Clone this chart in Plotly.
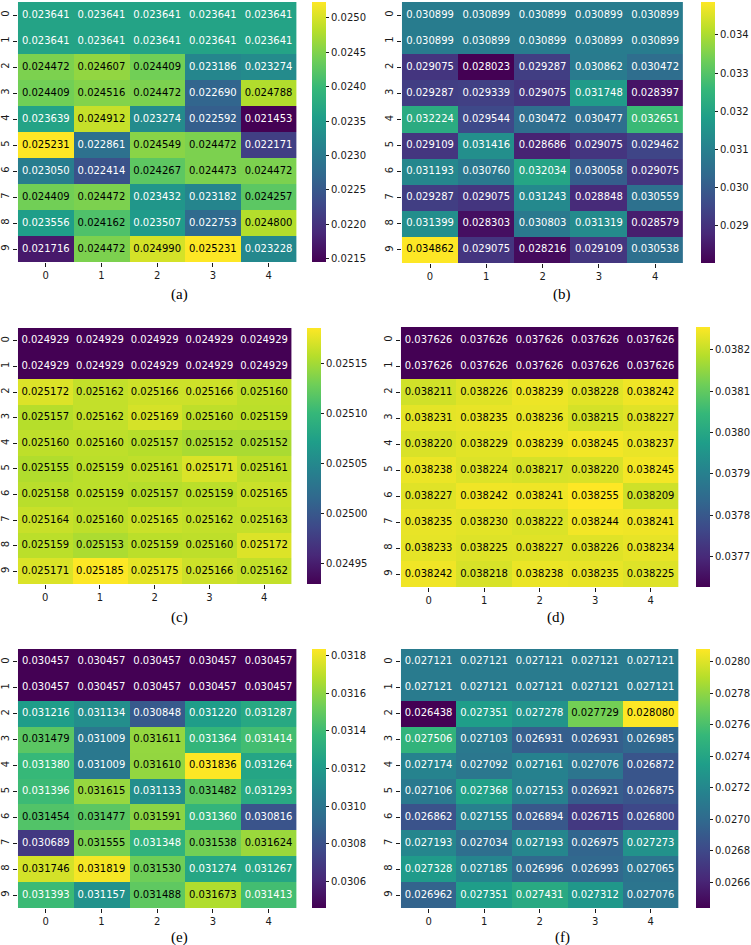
import plotly.graph_objects as go
from plotly.colors import sample_colorscale

W, H = 751, 945

rows = [0, 1, 2, 3, 4, 5, 6, 7, 8, 9]
cols = [0, 1, 2, 3, 4]

vals_a = [
    [0.023641, 0.023641, 0.023641, 0.023641, 0.023641],
    [0.023641, 0.023641, 0.023641, 0.023641, 0.023641],
    [0.024472, 0.024607, 0.024409, 0.023186, 0.023274],
    [0.024409, 0.024516, 0.024472, 0.022690, 0.024788],
    [0.023639, 0.024912, 0.023274, 0.022592, 0.021453],
    [0.025231, 0.022861, 0.024549, 0.024472, 0.022171],
    [0.023050, 0.022414, 0.024267, 0.024473, 0.024472],
    [0.024409, 0.024472, 0.023432, 0.023182, 0.024257],
    [0.023556, 0.024162, 0.023507, 0.022753, 0.024800],
    [0.021716, 0.024472, 0.024990, 0.025231, 0.023228],
]
vals_b = [
    [0.030899, 0.030899, 0.030899, 0.030899, 0.030899],
    [0.030899, 0.030899, 0.030899, 0.030899, 0.030899],
    [0.029075, 0.028023, 0.029287, 0.030862, 0.030472],
    [0.029287, 0.029339, 0.029075, 0.031748, 0.028397],
    [0.032224, 0.029544, 0.030472, 0.030477, 0.032651],
    [0.029109, 0.031416, 0.028686, 0.029075, 0.029462],
    [0.031193, 0.030760, 0.032034, 0.030058, 0.029075],
    [0.029287, 0.029075, 0.031243, 0.028848, 0.030559],
    [0.031399, 0.028303, 0.030803, 0.031319, 0.028579],
    [0.034862, 0.029075, 0.028216, 0.029109, 0.030538],
]
vals_c = [
    [0.024929, 0.024929, 0.024929, 0.024929, 0.024929],
    [0.024929, 0.024929, 0.024929, 0.024929, 0.024929],
    [0.025172, 0.025162, 0.025166, 0.025166, 0.025160],
    [0.025157, 0.025162, 0.025169, 0.025160, 0.025159],
    [0.025160, 0.025160, 0.025157, 0.025152, 0.025152],
    [0.025155, 0.025159, 0.025161, 0.025171, 0.025161],
    [0.025158, 0.025159, 0.025157, 0.025159, 0.025165],
    [0.025164, 0.025160, 0.025165, 0.025162, 0.025163],
    [0.025159, 0.025153, 0.025159, 0.025160, 0.025172],
    [0.025171, 0.025185, 0.025175, 0.025166, 0.025162],
]
vals_d = [
    [0.037626, 0.037626, 0.037626, 0.037626, 0.037626],
    [0.037626, 0.037626, 0.037626, 0.037626, 0.037626],
    [0.038211, 0.038226, 0.038239, 0.038228, 0.038242],
    [0.038231, 0.038235, 0.038236, 0.038215, 0.038227],
    [0.038220, 0.038229, 0.038239, 0.038245, 0.038237],
    [0.038238, 0.038224, 0.038217, 0.038220, 0.038245],
    [0.038227, 0.038242, 0.038241, 0.038255, 0.038209],
    [0.038235, 0.038230, 0.038222, 0.038244, 0.038241],
    [0.038233, 0.038225, 0.038227, 0.038226, 0.038234],
    [0.038242, 0.038218, 0.038238, 0.038235, 0.038225],
]
vals_e = [
    [0.030457, 0.030457, 0.030457, 0.030457, 0.030457],
    [0.030457, 0.030457, 0.030457, 0.030457, 0.030457],
    [0.031216, 0.031134, 0.030848, 0.031220, 0.031287],
    [0.031479, 0.031009, 0.031611, 0.031364, 0.031414],
    [0.031380, 0.031009, 0.031610, 0.031836, 0.031264],
    [0.031396, 0.031615, 0.031133, 0.031482, 0.031293],
    [0.031454, 0.031477, 0.031591, 0.031360, 0.030816],
    [0.030689, 0.031555, 0.031348, 0.031538, 0.031624],
    [0.031746, 0.031819, 0.031530, 0.031274, 0.031267],
    [0.031393, 0.031157, 0.031488, 0.031673, 0.031413],
]
vals_f = [
    [0.027121, 0.027121, 0.027121, 0.027121, 0.027121],
    [0.027121, 0.027121, 0.027121, 0.027121, 0.027121],
    [0.026438, 0.027351, 0.027278, 0.027729, 0.028080],
    [0.027506, 0.027103, 0.026931, 0.026931, 0.026985],
    [0.027174, 0.027092, 0.027161, 0.027076, 0.026872],
    [0.027106, 0.027368, 0.027153, 0.026921, 0.026875],
    [0.026862, 0.027155, 0.026894, 0.026715, 0.026800],
    [0.027193, 0.027034, 0.027193, 0.026975, 0.027273],
    [0.027328, 0.027185, 0.026996, 0.026993, 0.027065],
    [0.026962, 0.027351, 0.027431, 0.027312, 0.027076],
]

cb_ticks_a = [0.0215, 0.0220, 0.0225, 0.0230, 0.0235, 0.0240, 0.0245, 0.0250]
cb_ticks_b = [0.029, 0.030, 0.031, 0.032, 0.033, 0.034]
cb_ticks_c = [0.02495, 0.02500, 0.02505, 0.02510, 0.02515]
cb_ticks_d = [0.0377, 0.0378, 0.0379, 0.0380, 0.0381, 0.0382]
cb_ticks_e = [0.0306, 0.0308, 0.0310, 0.0312, 0.0314, 0.0316, 0.0318]
cb_ticks_f = [0.0266, 0.0268, 0.0270, 0.0272, 0.0274, 0.0276, 0.0278, 0.0280]

captions = ["(a)", "(b)", "(c)", "(d)", "(e)", "(f)"]

# layout geometry in pixels: heatmap x0,x1,y0,y1 ; colorbar x0 ; decimals ; caption x,y
panels = [
    dict(z=vals_a, ticks=cb_ticks_a, dec=4, hx=(16, 296), hy=(2, 262), cbx=312, cap=(178, 294)),
    dict(z=vals_b, ticks=cb_ticks_b, dec=3, hx=(402, 685), hy=(2, 263), cbx=703, cap=(563, 295)),
    dict(z=vals_c, ticks=cb_ticks_c, dec=5, hx=(16, 291), hy=(328, 584), cbx=307, cap=(178, 617)),
    dict(z=vals_d, ticks=cb_ticks_d, dec=4, hx=(401, 680), hy=(327, 587), cbx=698, cap=(557, 617)),
    dict(z=vals_e, ticks=cb_ticks_e, dec=4, hx=(16, 296), hy=(649, 908), cbx=312, cap=(178, 937)),
    dict(z=vals_f, ticks=cb_ticks_f, dec=4, hx=(401, 680), hy=(649, 908), cbx=698, cap=(563, 937)),
]

FONT = "DejaVu Sans"
FS = 10
TXT = "#1a1a1a"


def lum(rgbstr):
    parts = rgbstr[rgbstr.index("(") + 1:rgbstr.index(")")].split(",")
    out = 0.0
    for c, w in zip(parts[:3], [0.2126, 0.7152, 0.0722]):
        v = float(c) / 255.0
        v = v / 12.92 if v <= 0.03928 else ((v + 0.055) / 1.055) ** 2.4
        out += v * w
    return out


fig = go.Figure()
layout = dict(width=W, height=H, margin=dict(l=0, r=0, t=0, b=0),
              paper_bgcolor="white", plot_bgcolor="white", showlegend=False,
              font=dict(family=FONT, size=FS, color=TXT))
annotations = []

for k, p in enumerate(panels):
    idx = "" if k == 0 else str(k + 1)
    z = p["z"]
    flat = [v for r in z for v in r]
    zmin, zmax = min(flat), max(flat)
    x0, x1 = p["hx"]
    y0, y1 = p["hy"]
    fig.add_trace(go.Heatmap(
        z=z, x=cols, y=rows, colorscale="Viridis", zmin=zmin, zmax=zmax,
        xaxis="x" + idx, yaxis="y" + idx, hoverinfo="skip",
        colorbar=dict(
            x=p["cbx"] / W, xanchor="left", xpad=0, ypad=0,
            y=1 - (y0 + y1) / 2 / H, yanchor="middle",
            len=(y1 - y0) / H, lenmode="fraction",
            thickness=14, thicknessmode="pixels", outlinewidth=0,
            ticks="outside", ticklen=3.5, tickwidth=0.8, tickcolor=TXT,
            tickvals=p["ticks"],
            ticktext=[f"{t:.{p['dec']}f}" for t in p["ticks"]],
            tickfont=dict(family=FONT, size=FS, color=TXT),
        ),
    ))
    xs, ys, texts, colors = [], [], [], []
    for i, r in enumerate(rows):
        for j, c in enumerate(cols):
            v = z[i][j]
            t = (v - zmin) / (zmax - zmin)
            col = sample_colorscale("Viridis", [t])[0]
            xs.append(c)
            ys.append(r)
            texts.append(f"{v:.6f}")
            colors.append("black" if lum(col) > 0.408 else "white")
    fig.add_trace(go.Scatter(
        x=xs, y=ys, text=texts, mode="text", xaxis="x" + idx, yaxis="y" + idx,
        textfont=dict(family=FONT, size=FS, color=colors), hoverinfo="skip",
        showlegend=False,
    ))
    layout["xaxis" + idx] = dict(
        domain=[x0 / W, x1 / W], anchor="y" + idx, range=[-0.5, 4.5],
        tickvals=cols, ticktext=[str(c) for c in cols], ticks="outside",
        ticklen=3.5, tickwidth=0.8, tickcolor=TXT, showgrid=False,
        zeroline=False, showline=False,
        tickfont=dict(family=FONT, size=FS, color=TXT))
    layout["yaxis" + idx] = dict(
        domain=[1 - y1 / H, 1 - y0 / H], anchor="x" + idx, range=[9.5, -0.5],
        tickvals=rows, ticktext=[str(r) for r in rows], ticks="outside",
        ticklen=3.5, tickwidth=0.8, tickcolor=TXT, showgrid=False,
        zeroline=False, showline=False, tickangle=-90,
        tickfont=dict(family=FONT, size=FS, color=TXT))
    cx, cy = p["cap"]
    annotations.append(dict(
        text=captions[k], x=cx / W, y=1 - cy / H, xref="paper", yref="paper",
        xanchor="center", yanchor="middle", showarrow=False,
        font=dict(family="Liberation Serif", size=15, color="black")))

layout["annotations"] = annotations
fig.update_layout(**layout)
fig.write_html("out.html")
